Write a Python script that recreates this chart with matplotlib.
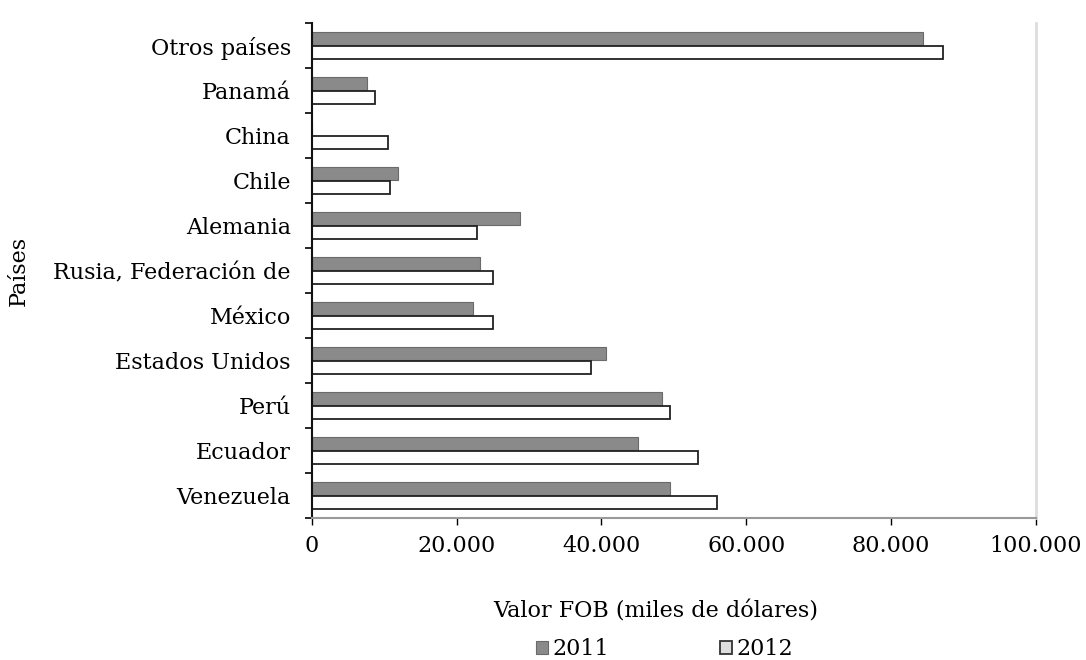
import matplotlib
matplotlib.use("Agg")
import matplotlib.pyplot as plt
import numpy as np
from matplotlib.ticker import FuncFormatter, FixedLocator

categories = ["Venezuela", "Ecuador", "Perú", "Estados Unidos", "México",
              "Rusia, Federación de", "Alemania", "Chile", "China", "Panamá",
              "Otros países"]
v2011 = [49.5, 45.1, 48.4, 40.6, 22.3, 23.2, 28.7, 11.9, 0.0, 7.6, 84.4]
v2012 = [56.0, 53.4, 49.5, 38.5, 25.1, 25.1, 22.8, 10.8, 10.6, 8.7, 87.2]
v2011 = [v * 1000 for v in v2011]
v2012 = [v * 1000 for v in v2012]
xticks = [0, 20000, 40000, 60000, 80000, 100000]

plt.rcParams['font.family'] = ['DejaVu Serif']
FS = 16

fig = plt.figure(figsize=(10.86, 6.6), dpi=100)
ax = fig.add_axes([0.287, 0.215, 0.667, 0.75])

y = np.arange(len(categories))
h = 0.3
b1 = ax.barh(y + 0.16, v2011, height=h, color="#8a8a8a", edgecolor="#6a6a6a", linewidth=0.8, label="2011")
b2 = ax.barh(y - 0.15, v2012, height=h, color="white", edgecolor="#222222", linewidth=1.3, label="2012")

ax.set_xlim(0, 100000)
ax.set_ylim(-0.5, len(categories) - 0.5)
ax.set_yticks(y)
ax.set_yticklabels(categories, fontsize=FS)
ax.yaxis.set_minor_locator(FixedLocator(np.arange(-0.5, len(categories), 1.0)))
ax.tick_params(axis='y', which='major', length=0, pad=15)
ax.tick_params(axis='y', which='minor', length=5, width=1.2, direction='out')
ax.set_xticks(xticks)
ax.xaxis.set_major_formatter(FuncFormatter(lambda v, p: f"{int(v):,}".replace(",", ".")))
ax.tick_params(axis='x', length=5, width=1.0, labelsize=FS, pad=7)

ax.spines["top"].set_visible(False)
ax.spines["right"].set_color("#dddddd")
ax.spines["right"].set_linewidth(2)
ax.spines["bottom"].set_color("#999999")
ax.spines["bottom"].set_linewidth(1.5)
ax.spines["left"].set_color("#111111")
ax.spines["left"].set_linewidth(1.5)

ax.set_xlabel("Valor FOB (miles de dólares)", fontsize=FS)
ax.xaxis.set_label_coords(0.475, -0.167)
fig.text(0.017, 0.59, "Países", rotation=90, fontsize=FS, va="center", ha="center")

leg = fig.legend(loc="center", bbox_to_anchor=(0.612, 0.016), ncol=2, frameon=False,
                 fontsize=FS, handlelength=0.55, handleheight=0.55, handletextpad=0.2,
                 columnspacing=5.0, borderpad=0.05)
leg.legend_handles[1].set_facecolor("#dddddd")
leg.legend_handles[1].set_edgecolor("#333333")

fig.savefig("out.png", dpi=100)
